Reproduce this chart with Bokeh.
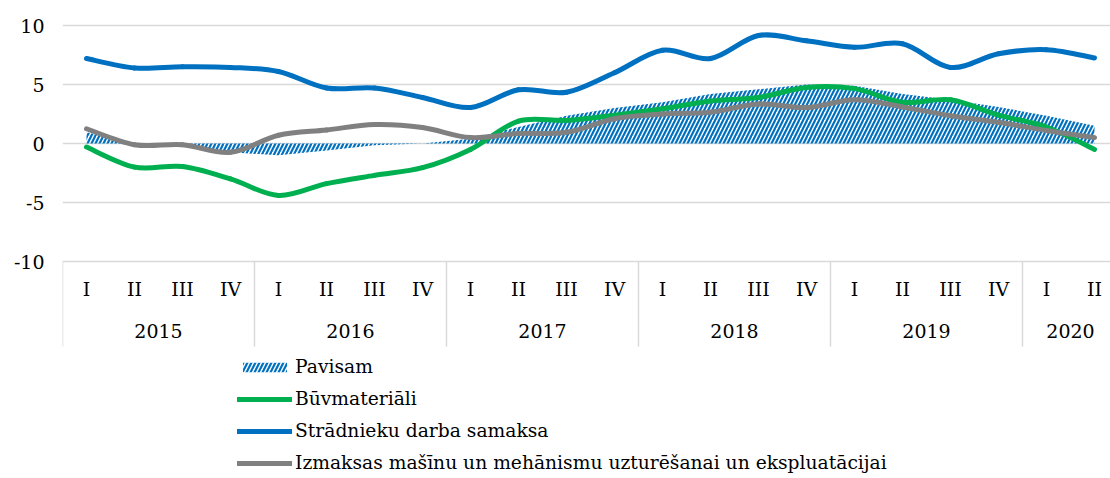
from bokeh.plotting import figure
from bokeh.models import Range1d, FixedTicker, Legend, ColumnDataSource
from bokeh.core.properties import value
from bokeh.embed import file_html
from bokeh.resources import INLINE

# ---- data ----
years = ["2015", "2016", "2017", "2018", "2019", "2020"]
quarters = ["I", "II", "III", "IV"] * 5 + ["I", "II"]
quarter_year = [y for y in years[:5] for _ in range(4)] + ["2020", "2020"]

pavisam = [0.95, 0.0, -0.1, -0.75, -1.0, -0.6, -0.15, 0.0, 0.4, 1.4, 2.35,
           3.0, 3.5, 4.2, 4.6, 5.0, 4.9, 4.2, 3.7, 3.1, 2.35, 1.5]
buvmateriali = [-0.3, -2.0, -1.95, -3.0, -4.4, -3.4, -2.7, -2.05, -0.5, 1.9, 1.95,
                2.4, 2.95, 3.6, 3.9, 4.75, 4.65, 3.5, 3.7, 2.4, 1.4, -0.5]
stradnieku = [7.2, 6.4, 6.5, 6.45, 6.1, 4.7, 4.7, 3.9, 3.05, 4.55, 4.35,
              6.0, 7.9, 7.2, 9.15, 8.7, 8.15, 8.45, 6.45, 7.6, 7.95, 7.25]
izmaksas = [1.25, -0.1, -0.1, -0.75, 0.7, 1.15, 1.6, 1.35, 0.5, 0.85, 0.95,
            2.1, 2.5, 2.65, 3.35, 3.05, 3.7, 3.1, 2.35, 1.8, 1.1, 0.5]

y_ticks = [-10, -5, 0, 5, 10]
y_tick_labels = ["-10", "-5", "0", "5", "10"]

FONT = "DejaVu Serif"
FS = "19px"
FS_LEG = "18.7px"
GRID = "#D9D9D9"

xs = list(range(len(quarters)))

W, H = 1110, 478
LEFT = 62
TOP_PX = 25          # pixel position of value 10
PX_PER_UNIT = 236 / 20.0
p = figure(width=W, height=H, output_backend="svg", toolbar_location=None,
           x_range=Range1d(-0.5, -0.5 + (W - LEFT) / 48.0),
           y_range=Range1d(10 - (H - TOP_PX) / PX_PER_UNIT, 10 + TOP_PX / PX_PER_UNIT),
           min_border_left=LEFT, min_border_right=0, min_border_top=0, min_border_bottom=0)
p.outline_line_color = None
p.xaxis.visible = False
p.xgrid.visible = False
p.ygrid.ticker = FixedTicker(ticks=y_ticks)
p.ygrid.grid_line_color = GRID
p.ygrid.grid_line_width = 1.5
yax = p.yaxis[0]
yax.ticker = FixedTicker(ticks=y_ticks)
yax.major_label_overrides = {t: l for t, l in zip(y_ticks, y_tick_labels)}
yax.axis_line_color = None
yax.major_tick_line_color = None
yax.minor_tick_line_color = None
yax.major_tick_out = 0
yax.major_label_standoff = 18
yax.major_label_text_font = FONT
yax.major_label_text_font_size = FS
yax.major_label_text_color = "#000000"

# ---- category table below the plot ----
ymin = y_ticks[0]
table_bottom = ymin - 85 / PX_PER_UNIT
q_row = ymin - 27 / PX_PER_UNIT
y_row = ymin - 69 / PX_PER_UNIT

starts = [quarter_year.index(y) - 0.5 for y in years]
ends = [len(quarter_year) - 0.5]
bx = starts + ends
p.segment(x0=bx, x1=bx, y0=[ymin] * len(bx), y1=[table_bottom] * len(bx),
          line_color=GRID, line_width=1.5)

p.text(x=xs, y=[q_row] * len(xs), text=quarters, text_font=value(FONT),
       text_font_size=FS, text_align="center", text_baseline="middle", text_color="#000000")
yc = [sum(i for i, qy in enumerate(quarter_year) if qy == y) / quarter_year.count(y) for y in years]
p.text(x=yc, y=[y_row] * len(yc), text=years, text_font=value(FONT),
       text_font_size=FS, text_align="center", text_baseline="middle", text_color="#000000")

# ---- series ----
r_area = p.varea(x=xs, y1=[0] * len(xs), y2=pavisam, fill_alpha=0,
                 hatch_pattern="/", hatch_color="#0070C0", hatch_scale=8, hatch_weight=2.2)


def bezier_source(vals):
    n = len(vals)
    x0, y0, x1, y1, cx0, cy0, cx1, cy1 = ([] for _ in range(8))
    for i in range(n - 1):
        im = max(i - 1, 0)
        ip2 = min(i + 2, n - 1)
        x0.append(xs[i]); y0.append(vals[i])
        x1.append(xs[i + 1]); y1.append(vals[i + 1])
        cx0.append(xs[i] + (xs[i + 1] - xs[im]) / 6.0)
        cy0.append(vals[i] + (vals[i + 1] - vals[im]) / 6.0)
        cx1.append(xs[i + 1] - (xs[ip2] - xs[i]) / 6.0)
        cy1.append(vals[i + 1] - (vals[ip2] - vals[i]) / 6.0)
    return ColumnDataSource(dict(x0=x0, y0=y0, x1=x1, y1=y1, cx0=cx0, cy0=cy0, cx1=cx1, cy1=cy1))


series = [(buvmateriali, "#00B050"), (stradnieku, "#0070C0"), (izmaksas, "#808080")]
line_renderers = []
for vals, col in series:
    r = p.bezier(x0="x0", y0="y0", x1="x1", y1="y1", cx0="cx0", cy0="cy0", cx1="cx1", cy1="cy1",
                 source=bezier_source(vals), line_color=col, line_width=5, line_cap="round")
    line_renderers.append(r)

labels = ["Pavisam", "Būvmateriāli", "Strādnieku darba samaksa",
          "Izmaksas mašīnu un mehānismu uzturēšanai un ekspluatācijai"]
legend = Legend(items=[(labels[0], [r_area])] + [(l, [r]) for l, r in zip(labels[1:], line_renderers)],
                location=(175, 2), orientation="vertical",
                label_text_font=FONT, label_text_font_size=FS_LEG, label_text_color="#000000",
                glyph_width=55, glyph_height=12, label_height=27, spacing=5,
                label_standoff=3, padding=0, margin=0,
                border_line_color=None, background_fill_alpha=0)
p.add_layout(legend, "center")

open("out.html", "w").write(file_html(p, INLINE))
